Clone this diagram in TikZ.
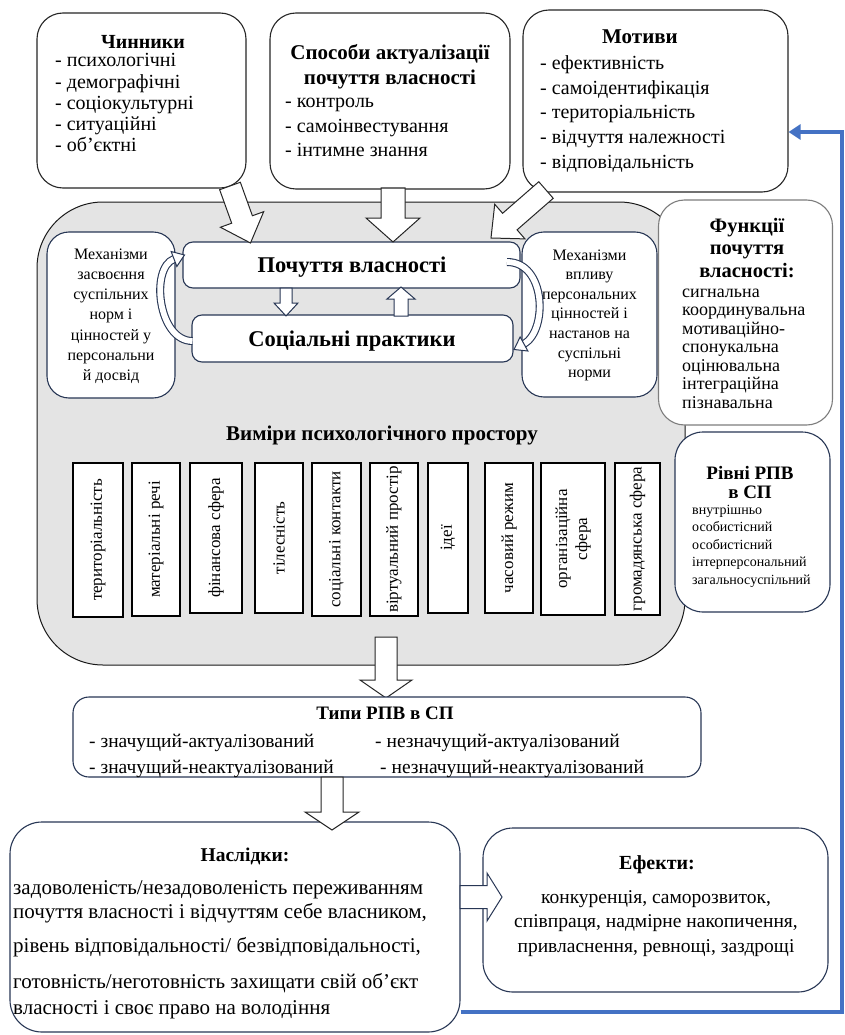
\documentclass[tikz,border=0pt]{standalone}
\usepackage{fontspec}
\setmainfont{Liberation Serif}
\usetikzlibrary{calc,arrows.meta}
\definecolor{navy}{RGB}{40,55,85}
\definecolor{fbblue}{RGB}{68,114,196}
\definecolor{grayfill}{RGB}{228,228,228}
\definecolor{boxgray}{RGB}{125,125,125}
\newcommand\fs[2]{\fontsize{#1}{#2}\selectfont}
\newcommand\blockarr[6][black!85]{%
  \coordinate (#2h) at ($(#3)!#6!(#2)$);
  \draw[draw=#1, line width=1pt, fill=white, line join=miter]
    ($(#2)!#4!90:(#3)$) -- ($(#2h)!#4!90:(#3)$) -- ($(#2h)!#5!90:(#3)$) -- (#3)
    -- ($(#2h)!#5!-90:(#3)$) -- ($(#2h)!#4!-90:(#3)$) -- ($(#2)!#4!-90:(#3)$) -- cycle;}
\tikzset{
  topbox/.style={draw=black!85, line width=1.1pt, fill=white, rounded corners=26pt, inner sep=0pt},
  navybox/.style={draw=navy, line width=1.1pt, fill=white, rounded corners=#1, inner sep=0pt},
  navybox/.default=20pt,
  regionbox/.style={draw=black!90, line width=1pt, fill=grayfill, rounded corners=66pt, inner sep=0pt},
  graybox/.style={draw=boxgray, line width=1.1pt, fill=white, rounded corners=26pt, inner sep=0pt},
  colbox/.style={draw=black, line width=1.1pt, fill=white, rotate=90, inner sep=0pt, align=center, font=\fs{17}{20}},
  txt/.style={inner sep=0pt, anchor=base west, font=\fs{20}{22}},
  ctxt/.style={inner sep=0pt, anchor=base, font=\fs{16}{20}},
  ttl/.style={inner sep=0pt, anchor=base, font=\fs{21}{24}\bfseries},
  band/.style={line width=8pt, draw=navy},
  bandin/.style={line width=5.8pt, draw=white},
  bandhead/.style={draw=navy, line width=1pt, fill=white, line join=miter},
}
\begin{document}
\begin{tikzpicture}[x=1pt,y=-1pt]
\useasboundingbox (0,0) rectangle (845,1035);
\fill[white] (0,0) rectangle (845,1035);

% ---------- big gray region ----------
\node[regionbox, minimum width=648pt, minimum height=463pt] (space) at (361,433.5) {};

% ---------- mechanisms and central boxes ----------
\node[navybox=22pt, minimum width=128pt, minimum height=166pt] (mechl) at (111,315) {};
\foreach \t [count=\i from 0] in {Механізми,засвоєння,суспільних,норм і,цінностей у,персональни,й досвід}
  \node[ctxt] (ml\i) at (111,{259+20.3*\i}) {\t};
\node[navybox=22pt, minimum width=135pt, minimum height=165pt] (mechr) at (589.5,314.5) {};
\foreach \t [count=\i from 0] in {Механізми,впливу,персональних,цінностей і,настанов на,суспільні,норми}
  \node[ctxt] (mr\i) at (589.5,{260+19.6*\i}) {\t};

\node[navybox=10pt, minimum width=337pt, minimum height=46pt] (poch) at (351.5,265) {};
\node[inner sep=0pt, anchor=base, font=\fs{22.5}{24}\bfseries] (pocht) at (352,272.5) {Почуття власності};
\node[navybox=10pt, minimum width=321pt, minimum height=47pt] (soc) at (352.5,338.5) {};
\node[inner sep=0pt, anchor=base, font=\fs{22.5}{24}\bfseries] (soct) at (352,346.5) {Соціальні практики};

% small arrows between
\coordinate (d0) at (286,288); \coordinate (d1) at (286,316);
\blockarr[navy]{d0}{d1}{6pt}{12pt}{13pt}
\coordinate (u0) at (401,316); \coordinate (u1) at (401,287);
\blockarr[navy]{u0}{u1}{7pt}{14pt}{12pt}

% curved arrows
\coordinate (la0) at (192.5,341); \coordinate (la1) at (174,259); \coordinate (lat) at (184.5,255);
\draw[band] (la0) .. controls (158,341) and (150,268) .. (la1);
\draw[bandin] (la0) .. controls (158,341) and (150,268) .. (la1);
\draw[bandhead] ($(la1)!8pt!90:(lat)$) -- (lat) -- ($(la1)!8pt!-90:(lat)$) -- cycle;
\coordinate (ra0) at (507,262); \coordinate (ra1) at (524,344); \coordinate (rat) at (514,349.5);
\draw[band] (ra0) .. controls (546,262) and (548,330) .. (ra1);
\draw[bandin] (ra0) .. controls (546,262) and (548,330) .. (ra1);
\draw[bandhead] ($(ra1)!8pt!90:(rat)$) -- (rat) -- ($(ra1)!8pt!-90:(rat)$) -- cycle;

% ---------- dimensions ----------
\node[ttl] (dimt) at (382,440) {Виміри психологічного простору};
\node[colbox, minimum width=154pt, minimum height=50pt] (c1) at (98,540) {територіальність};
\node[colbox, minimum width=153pt, minimum height=48pt] (c2) at (156,539.5) {матеріальні речі};
\node[colbox, minimum width=150pt, minimum height=52pt] (c3) at (216,538) {фінансова сфера};
\node[colbox, minimum width=150pt, minimum height=48pt] (c4) at (279,538) {тілесність};
\node[colbox, minimum width=153pt, minimum height=49pt] (c5) at (336.5,539.5) {соціальні контакти};
\node[colbox, minimum width=153pt, minimum height=48pt] (c6) at (394,539.5) {віртуальний простір};
\node[colbox, minimum width=150pt, minimum height=40pt] (c7) at (448,538) {ідеї};
\node[colbox, minimum width=150pt, minimum height=48pt] (c8) at (509,538) {часовий режим};
\node[colbox, minimum width=152pt, minimum height=64pt] (c9) at (573,539) {організаційна\\сфера};
\node[colbox, minimum width=152pt, minimum height=45pt] (c10) at (637.5,539) {громадянська сфера};

% ---------- top boxes ----------
\node[topbox, minimum width=209pt, minimum height=175pt] (chin) at (141.5,100.5) {};
\node[ttl, font=\fs{20}{24}\bfseries] (chint) at (143,49) {Чинники};
\foreach \t [count=\i from 0] in {- психологічні,- демографічні,- соціокультурні,- ситуаційні,- об’єктні}
  \node[txt] (ch\i) at (55,{67+21.2*\i}) {\t};

\node[topbox, minimum width=240pt, minimum height=176pt] (spos) at (390,101) {};
\node[ttl] (spost1) at (390,60) {Способи актуалізації};
\node[ttl] (spost2) at (390,85) {почуття власності};
\foreach \t [count=\i from 0] in {- контроль,- самоінвестування,- інтимне знання}
  \node[txt] (sp\i) at (285,{108+24.5*\i}) {\t};

\node[topbox, minimum width=265pt, minimum height=182pt] (motyv) at (655.5,101) {};
\node[ttl] (motyvt) at (640,44) {Мотиви};
\foreach \t [count=\i from 0] in {- ефективність,- самоідентифікація,- територіальність,- відчуття належності,- відповідальність}
  \node[txt] (mo\i) at (540,{70+24.5*\i}) {\t};

% block arrows from top boxes
\coordinate (a1s) at (230,186); \coordinate (a1e) at (250.5,243);
\blockarr{a1s}{a1e}{11pt}{23pt}{25pt}
\coordinate (a2s) at (393,188); \coordinate (a2e) at (393,242);
\blockarr{a2s}{a2e}{12pt}{27pt}{24pt}
\coordinate (a3s) at (546,190); \coordinate (a3e) at (491,238);
\blockarr{a3s}{a3e}{11pt}{23pt}{25pt}

% ---------- right side boxes ----------
\node[graybox, minimum width=174pt, minimum height=225pt] (func) at (745.5,312.5) {};
\foreach \t [count=\i from 0] in {Функції,почуття,власності:}
  \node[ttl, font=\fs{20.5}{22}\bfseries] (ft\i) at (747,{232+22.5*\i}) {\t};
\foreach \t [count=\i from 0] in {сигнальна,координувальна,мотиваційно-,спонукальна,оцінювальна,інтеграційна,пізнавальна}
  \node[txt, font=\fs{18}{20}] (fl\i) at (682,{297+18.5*\i}) {\t};

\node[navybox=28pt, minimum width=155pt, minimum height=180pt] (rivni) at (752.5,522) {};
\node[ttl, font=\fs{19}{20}\bfseries] (rt0) at (750,479.5) {Рівні РПВ};
\node[ttl, font=\fs{19}{20}\bfseries] (rt1) at (750,498.5) {в СП};
\foreach \t [count=\i from 0] in {внутрішньо,особистісний,особистісний,інтерперсональний,загальносуспільний}
  \node[txt, font=\fs{14}{17}] (rl\i) at (692,{514+17.5*\i}) {\t};

% ---------- types ----------
\coordinate (a4s) at (386,637); \coordinate (a4e) at (386,698);
\blockarr{a4s}{a4e}{11pt}{26pt}{18pt}
\node[navybox=16pt, minimum width=628pt, minimum height=80pt] (typy) at (387,737) {};
\node[ttl, font=\fs{19}{20}\bfseries] (typyt) at (385,719) {Типи РПВ в СП};
\node[txt, font=\fs{19.5}{20}] (typy1) at (89,747) {- значущий-актуалізований};
\node[txt, font=\fs{19.5}{20}] (typy2) at (375,747) {- незначущий-актуалізований};
\node[txt, font=\fs{19.5}{20}] (typy3) at (89,773) {- значущий-неактуалізований};
\node[txt, font=\fs{19.5}{20}] (typy4) at (380,773) {- незначущий-неактуалізований};

% ---------- consequences and effects ----------
\node[navybox=32pt, minimum width=450pt, minimum height=210pt] (nasl) at (235,927) {};
\coordinate (a5s) at (332,777); \coordinate (a5e) at (332,830);
\blockarr{a5s}{a5e}{11pt}{27pt}{18pt}
\node[ttl, font=\fs{19.5}{22}\bfseries] (naslt) at (245,861) {Наслідки:};
\node[txt, font=\fs{21}{22}] (nasl1) at (13,894) {задоволеність/незадоволеність переживанням};
\node[txt, font=\fs{21}{22}] (nasl2) at (13,918) {почуття власності і відчуттям себе власником,};
\node[txt, font=\fs{21}{22}] (nasl3) at (13,952) {рівень відповідальності/ безвідповідальності,};
\node[txt, font=\fs{21}{22}] (nasl4) at (13,988) {готовність/неготовність захищати свій об’єкт};
\node[txt, font=\fs{21}{22}] (nasl5) at (13,1014) {власності і своє право на володіння};

\node[navybox=30pt, minimum width=345pt, minimum height=164pt] (efek) at (655.5,910) {};
\coordinate (a6s) at (460,897); \coordinate (a6e) at (502,897);
\blockarr[navy]{a6s}{a6e}{11.5pt}{24pt}{15pt}
\node[ttl, font=\fs{20}{22}\bfseries] (efekt) at (657,869) {Ефекти:};
\foreach \t [count=\i from 0] in {{конкуренція, саморозвиток,},{співпраця, надмірне накопичення,},{привласнення, ревнощі, заздрощі}}
  \node[inner sep=0pt, anchor=base, font=\fs{19.5}{22}] (ef\i) at (656,{903+24.5*\i}) {\t};

% ---------- feedback line ----------
\coordinate (fbb) at (842,1012);
\coordinate (fbt) at (842,132);
\draw[fbblue, line width=4pt, line join=miter, -{Triangle[length=12pt,width=15pt]}]
  (nasl.east |- fbb) -- (fbb) -- (fbt) -- (fbt -| motyv.east);
\end{tikzpicture}
\end{document}
